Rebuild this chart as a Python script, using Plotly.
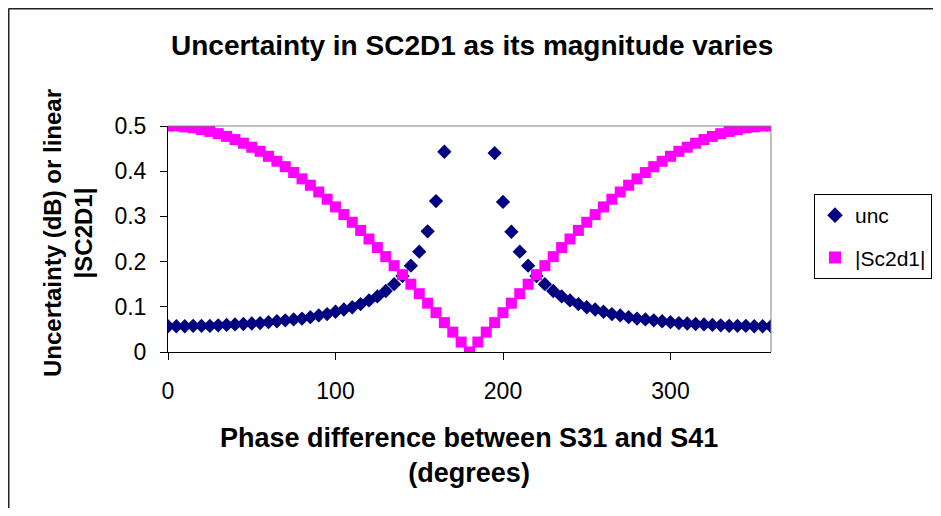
import plotly.graph_objects as go

phase = list(range(0, 365, 5))

unc = [0.057, 0.057, 0.057, 0.058, 0.058, 0.058, 0.059, 0.060, 0.061, 0.062,
       0.063, 0.064, 0.066, 0.068, 0.070, 0.072, 0.074, 0.077, 0.081, 0.084,
       0.089, 0.094, 0.099, 0.106, 0.114, 0.123, 0.135, 0.150, 0.168, 0.191,
       0.222, 0.267, 0.334, 0.443, None, None, None, None, None, 0.440,
       0.332, 0.266, 0.222, 0.191, 0.168, 0.150, 0.135, 0.123, 0.114, 0.106,
       0.099, 0.094, 0.089, 0.084, 0.081, 0.077, 0.074, 0.072, 0.070, 0.068,
       0.066, 0.064, 0.063, 0.062, 0.061, 0.060, 0.059, 0.058, 0.058, 0.058,
       0.057, 0.057, 0.057]

sc2d1 = [0.500, 0.500, 0.498, 0.496, 0.492, 0.488, 0.483, 0.477, 0.470, 0.462,
         0.453, 0.444, 0.433, 0.422, 0.410, 0.397, 0.383, 0.369, 0.354, 0.338,
         0.321, 0.304, 0.287, 0.269, 0.250, 0.231, 0.211, 0.191, 0.171, 0.150,
         0.129, 0.108, 0.087, 0.065, 0.044, 0.022, 0.000, 0.022, 0.044, 0.065,
         0.087, 0.108, 0.129, 0.150, 0.171, 0.191, 0.211, 0.231, 0.250, 0.269,
         0.287, 0.304, 0.321, 0.338, 0.354, 0.369, 0.383, 0.397, 0.410, 0.422,
         0.433, 0.444, 0.453, 0.462, 0.470, 0.477, 0.483, 0.488, 0.492, 0.496,
         0.498, 0.500, 0.500]

x_ticks = [0, 100, 200, 300]
y_ticks = [0, 0.1, 0.2, 0.3, 0.4, 0.5]
y_tick_text = ["0", "0.1", "0.2", "0.3", "0.4", "0.5"]

FONT = "Liberation Sans, Arial, sans-serif"

# page body has an 8px margin; work in page coordinates and convert
OFF = 8
W, H = 941 - OFF, 516 - 2 * OFF
PX0, PX1, PY0, PY1 = 168, 771, 126, 352   # plot area in page pixels
L = PX0 - OFF
R = W - (PX1 - OFF)
T = PY0 - OFF
B = H - (PY1 - OFF)
pw, ph = W - L - R, H - T - B

def px(xp):
    return (xp - OFF - L) / pw

def py(yp):
    return (H - B - (yp - OFF)) / ph

fig = go.Figure()
fig.add_trace(go.Scatter(
    x=phase, y=unc, mode="markers", name="unc", legendgroup="a",
    marker=dict(symbol="diamond", color="#000080", size=11,
                line=dict(width=0)),
))
fig.add_trace(go.Scatter(
    x=phase, y=sc2d1, mode="markers", name="|Sc2d1|", legendgroup="b",
    marker=dict(symbol="square", color="#FF00FF", size=11,
                line=dict(width=0)),
))

fig.update_layout(
    width=W, height=H,
    margin=dict(l=L, r=R, t=T, b=B, pad=0, autoexpand=False),
    paper_bgcolor="white", plot_bgcolor="white",
    font=dict(family=FONT, color="black", size=22),
    showlegend=True,
    legend=dict(
        x=px(814), y=py(194), xanchor="left", yanchor="top",
        bordercolor="black", borderwidth=1, bgcolor="white",
        font=dict(size=21, family=FONT),
        itemsizing="constant", tracegroupgap=12, itemwidth=30,
    ),
    xaxis=dict(
        range=[0, 360], tickvals=x_ticks, ticks="outside", ticklen=7,
        tickcolor="black", showgrid=False, zeroline=False,
        showline=True, linecolor="black", linewidth=1,
        tickfont=dict(size=23), ticklabelstandoff=11,
    ),
    yaxis=dict(
        range=[0, 0.5], tickvals=y_ticks, ticktext=y_tick_text,
        ticks="outside", ticklen=7, tickcolor="black",
        showgrid=False, zeroline=False,
        showline=True, linecolor="black", linewidth=1,
        tickfont=dict(size=23), ticklabelstandoff=9,
    ),
    shapes=[
        dict(type="line", xref="paper", yref="paper", x0=0, x1=1, y0=1, y1=1,
             line=dict(color="#808080", width=1)),
        dict(type="line", xref="paper", yref="paper", x0=1, x1=1, y0=0, y1=1,
             line=dict(color="#808080", width=1)),
        dict(type="line", xref="paper", yref="paper",
             x0=px(8.5), x1=px(8.5), y0=py(8.5), y1=py(530),
             line=dict(color="#222222", width=2)),
        dict(type="line", xref="paper", yref="paper",
             x0=px(8.5), x1=px(960), y0=py(8.5), y1=py(8.5),
             line=dict(color="#222222", width=2)),
    ],
    annotations=[
        dict(text="<b>Uncertainty in SC2D1 as its magnitude varies</b>",
             xref="paper", yref="paper", x=px(472), y=py(45),
             xanchor="center", yanchor="middle", showarrow=False,
             font=dict(size=28, family=FONT)),
        dict(text="<b>Phase difference between S31 and S41</b><br><b>(degrees)</b>",
             xref="paper", yref="paper", x=px(469), y=py(455),
             xanchor="center", yanchor="middle", showarrow=False,
             font=dict(size=27, family=FONT), align="center"),
        dict(text="<b>Uncertainty (dB) or linear</b><br><b>|SC2D1|</b>",
             xref="paper", yref="paper", x=px(68), y=py(233),
             xanchor="center", yanchor="middle", showarrow=False,
             textangle=-90, font=dict(size=24, family=FONT), align="center"),
    ],
)

fig.write_html("out.html")
